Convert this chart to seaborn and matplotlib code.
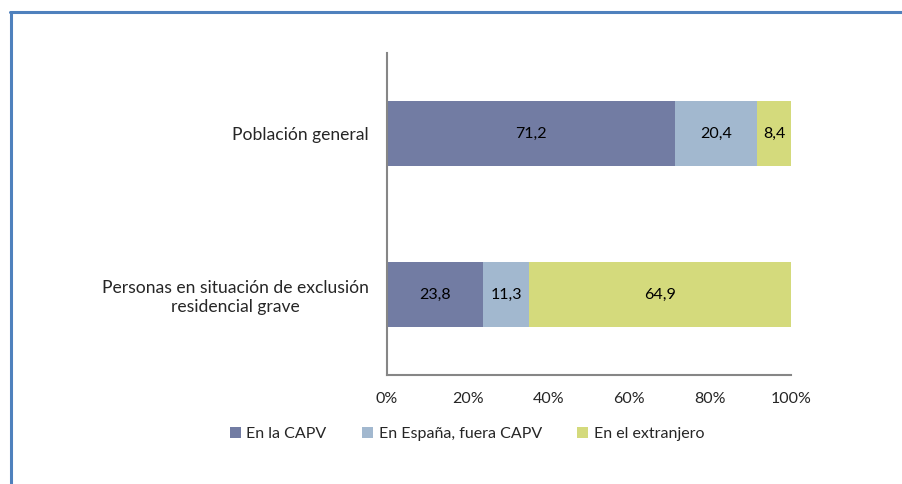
import numpy as np
import pandas as pd
import matplotlib
matplotlib.use("Agg")
import matplotlib.pyplot as plt
from matplotlib.lines import Line2D
from matplotlib.patches import Patch
import seaborn as sns

sns.set_style("white")
plt.rcParams["font.family"] = ["Lato", "DejaVu Sans"]

categories = ["Población general", "Personas en situación de exclusión\nresidencial grave"]
series = ["En la CAPV", "En España, fuera CAPV", "En el extranjero"]
en_capv = [71.2, 23.8]
en_espana = [20.4, 11.3]
en_extranjero = [8.4, 64.9]
colors = ["#727CA3", "#A2B8CF", "#D4DA7C"]
xticks = [0, 20, 40, 60, 80, 100]

df = pd.DataFrame({"cat": categories, "capv": en_capv, "esp": en_espana, "ext": en_extranjero})
df["c1"] = df["capv"]
df["c2"] = df["capv"] + df["esp"]
df["c3"] = df["c2"] + df["ext"]

FS = 11.5

fig = plt.figure(figsize=(9.02, 4.84), dpi=100)
ax = fig.add_axes([0.429, 0.2252, 0.448, 0.6653])

# stacked bars drawn as cumulative layers, largest first
for col, color in zip(["c3", "c2", "c1"], colors[::-1]):
    sns.barplot(data=df, x=col, y="cat", orient="h", color=color, width=0.4,
                saturation=1, ax=ax, edgecolor="none")

# labels: centre of each segment
seg_vals = [df["capv"], df["esp"], df["ext"]]
seg_left = [np.zeros(len(df)), df["c1"], df["c2"]]
for vals, left in zip(seg_vals, seg_left):
    for i, (v, l) in enumerate(zip(vals, left)):
        ax.text(l + v / 2, i, f"{v:.1f}".replace(".", ","), ha="center", va="center",
                fontsize=FS, color="black")

ax.set_xlim(0, 100)
ax.set_ylim(1.5, -0.5)
ax.set_xticks(xticks)
ax.set_xticklabels([f"{t}%" for t in xticks], fontsize=FS)
ax.set_yticks(range(len(categories)))
ax.set_yticklabels(categories, fontsize=12.6, ha="right", multialignment="center",
                   linespacing=1.25)
ax.yaxis.set_tick_params(pad=13, length=0)
ax.set_yticks([-0.5, 0.5, 1.5], minor=True)
ax.tick_params(axis="y", which="minor", length=6, width=1.2, color="#868686", direction="out")
ax.tick_params(axis="x", length=5, width=1.2, color="#868686", direction="out", pad=7)
ax.set_xlabel("")
ax.set_ylabel("")
for s in ["top", "right"]:
    ax.spines[s].set_visible(False)
for s in ["left", "bottom"]:
    ax.spines[s].set_color("#868686")
    ax.spines[s].set_linewidth(1.5)

handles = [Patch(facecolor=c, edgecolor="none") for c in colors]
fig.legend(handles, series, loc="center", bbox_to_anchor=(467 / 902, 1 - 434 / 484), ncol=3,
           frameon=False, fontsize=FS, handlelength=0.7, handleheight=0.7,
           handletextpad=0.35, columnspacing=2.2)

# blue outer frame (left and top edges visible)
fig.add_artist(Line2D([11 / 902, 11 / 902], [0, 1 - 12 / 484], color="#4F81BD", lw=2.2,
                      transform=fig.transFigure))
fig.add_artist(Line2D([10 / 902, 1], [1 - 12 / 484, 1 - 12 / 484], color="#4F81BD", lw=2.2,
                      transform=fig.transFigure))

fig.savefig("out.png", dpi=100)
plt.close(fig)
